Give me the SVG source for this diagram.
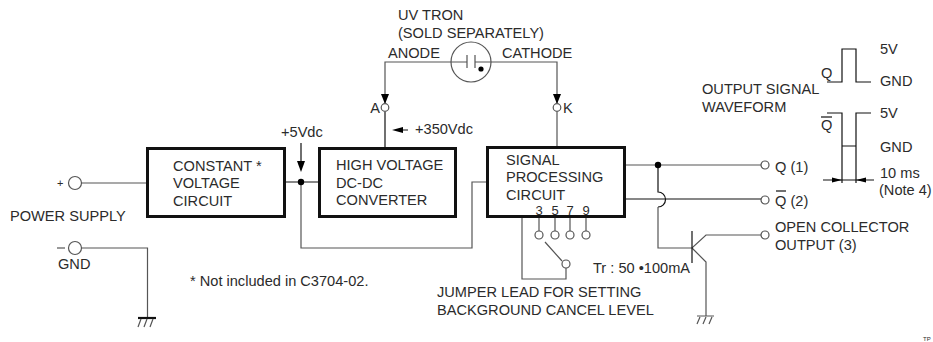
<svg xmlns="http://www.w3.org/2000/svg" width="933" height="342" viewBox="0 0 933 342">
<style>
text{font-family:"Liberation Sans",Arial,sans-serif;font-size:14.6px;fill:#2b2b2b}
.box{fill:#fff;stroke:#111;stroke-width:3}
.w{fill:none;stroke:#555;stroke-width:1.2}
.k{fill:none;stroke:#111;stroke-width:1.2}
.t{fill:#fff;stroke:#555;stroke-width:1.2}
.d{fill:#000;stroke:none}
.n{font-size:13px;text-anchor:middle}
</style>
<rect width="933" height="342" fill="#fff"/>
<g id="connectors">
<path class="w" d="M81.500 183H147M81.500 248H147.500V318"/>
<path class="k" d="M285 182H319"/>
<path class="w" d="M301 182V248H472V182H487"/>
<path class="k" d="M385 112V148"/>
<path class="w" d="M385 103V62H451M491 62H557V103M557 112V147"/>
<path class="w" d="M625 165H761"/>
<path class="k" d="M625 199H761"/>
<path class="k" d="M658 165V192A7.500 7.500 0 0 1 658 207"/>
<path class="w" d="M658 207V248H692L706 235H761M692 248L706 262V316"/>
<path class="k" d="M692 231V263"/>
<path class="w" d="M539 217V231M555 217V231M570 217V231M586 217V231"/>
<path class="w" d="M522 217V279H566V268M545 242L562 261"/>
<path class="k" d="M301 143V165M408 130H400"/>
<polygon class="d" points="297,161 305,161 301,172"/>
<polygon class="d" points="403,127 403,133 392,130"/>
<polygon class="d" points="381,94 389,94 385,104"/>
<polygon class="d" points="553,94 561,94 557,104"/>
<circle class="d" cx="301" cy="182" r="3.200"/>
<circle class="d" cx="658" cy="165" r="3.200"/>
</g>
<g id="ground-1"><path d="M138 318H156" stroke="#111" stroke-width="2.200" fill="none"/><path class="w" d="M141 319L138 327M147 319L144 327M153 319L150 327"/></g>
<g id="ground-2"><path class="w" d="M697 316H714M700 317L697 324M706 317L703 324M712 317L709 324"/></g>
<g id="constant-voltage"><rect class="box" x="147.500" y="148.500" width="137" height="68"/><text x="173" y="171">CONSTANT *</text><text x="173" y="188">VOLTAGE</text><text x="173" y="206">CIRCUIT</text></g>
<g id="hv-converter"><rect class="box" x="319.500" y="148.500" width="136" height="68"/><text x="336" y="170">HIGH VOLTAGE</text><text x="336" y="188">DC-DC</text><text x="336" y="205">CONVERTER</text></g>
<g id="signal-processing"><rect class="box" x="487.500" y="147.500" width="137" height="69"/><text x="506" y="165">SIGNAL</text><text x="506" y="182">PROCESSING</text><text x="506" y="200">CIRCUIT</text><text class="n" x="539" y="215">3</text><text class="n" x="555" y="215">5</text><text class="n" x="570" y="215">7</text><text class="n" x="586" y="215">9</text></g>
<g id="uv-tron"><circle class="t" cx="471" cy="62" r="20"/><path class="w" d="M451 62H467M475 62H491M467 55V68M475 55V68"/><circle class="d" cx="481" cy="69" r="2.600"/><text x="398" y="20">UV TRON</text><text x="398" y="38">(SOLD SEPARATELY)</text><text x="388" y="58">ANODE</text><text x="502" y="58">CATHODE</text></g>
<g id="terminal-a"><circle class="t" cx="385" cy="107.500" r="3.800"/><text x="380" y="113" text-anchor="end">A</text></g>
<g id="terminal-k"><circle class="t" cx="557" cy="107.500" r="3.800"/><text x="563" y="113">K</text></g>
<g id="power"><circle class="t" cx="75" cy="183" r="6.500"/><circle class="t" cx="75" cy="248" r="6.500"/><text x="57" y="187" style="font-size:11px">+</text><path class="w" d="M57 248H65"/><text x="10" y="221">POWER SUPPLY</text><text x="58" y="269">GND</text></g>
<g id="notes"><text x="190" y="286">* Not included in C3704-02.</text><text x="281" y="137">+5Vdc</text><text x="415" y="134">+350Vdc</text><text x="593" y="273">Tr : 50 •100mA</text><text x="437" y="297">JUMPER LEAD FOR SETTING</text><text x="437" y="315">BACKGROUND CANCEL LEVEL</text></g>
<g id="jumpers"><circle class="t" cx="539" cy="235" r="4"/><circle class="t" cx="555" cy="235" r="4"/><circle class="t" cx="570" cy="235" r="4"/><circle class="t" cx="586" cy="235" r="4"/><circle class="t" cx="566" cy="264" r="4"/></g>
<g id="outputs"><circle class="t" cx="765" cy="165" r="4"/><circle class="t" cx="765" cy="200" r="4"/><circle class="t" cx="765" cy="235" r="4"/><text x="775" y="172">Q (1)</text><text x="775" y="206">Q (2)</text><path class="k" d="M776 191H786"/><text x="775" y="232">OPEN COLLECTOR</text><text x="775" y="250">OUTPUT (3)</text></g>
<g id="waveform"><path class="k" d="M827 82H842V49H856V82H871M827 113H842V183M871 113H856V183M842 146H856M823 180H874"/><polygon class="d" points="832,177.500 832,182.500 842,180"/><polygon class="d" points="866,177.500 866,182.500 856,180"/><text x="821" y="78">Q</text><text x="821" y="130">Q</text><path class="k" d="M821 117H832"/><text x="702" y="94">OUTPUT SIGNAL</text><text x="702" y="112">WAVEFORM</text><text x="880" y="54">5V</text><text x="880" y="86">GND</text><text x="880" y="118">5V</text><text x="880" y="152">GND</text><text x="880" y="178">10 ms</text><text x="879" y="195">(Note 4)</text></g>
<text x="923" y="341" style="font-size:6px">TP</text>
</svg>
